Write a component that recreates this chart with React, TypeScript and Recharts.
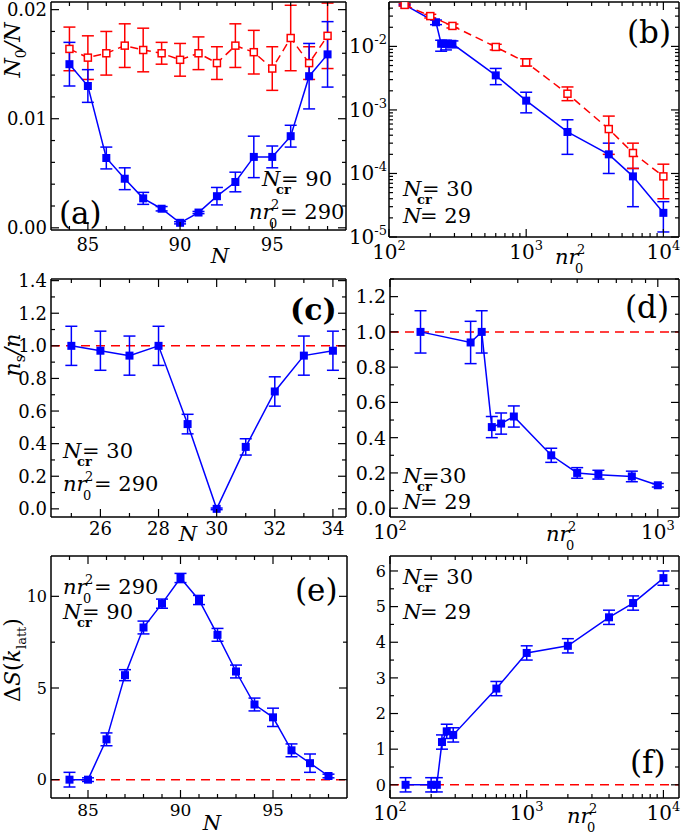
import React from 'react';
import { LineChart, Line, XAxis, YAxis, ErrorBar, ReferenceLine } from 'recharts';

const SERIF = "'DejaVu Serif', serif";
const BLUE = '#0000ff';
const RED = '#ff0000';

// (a) N0/N against N at nr0^2 = 290
const nA = [84, 85, 86, 87, 88, 89, 90, 91, 92, 93, 94, 95, 96, 97, 98];
const blueA = [0.015, 0.013, 0.0064, 0.0045, 0.0027, 0.00175, 0.00046, 0.0014, 0.0029, 0.0042, 0.0065, 0.0065, 0.0084, 0.0139, 0.0159];
const blueErrA = [0.002, 0.0015, 0.001, 0.001, 0.00055, 0.0002, 0.0001, 0.0001, 0.0008, 0.0009, 0.0019, 0.001, 0.001, 0.003, 0.003];
const redA = [0.0164, 0.0156, 0.016, 0.0167, 0.0163, 0.016, 0.0154, 0.016, 0.0151, 0.0167, 0.0161, 0.0146, 0.0174, 0.0151, 0.0176];
const redErrA = [0.002, 0.002, 0.002, 0.002, 0.002, 0.001, 0.0015, 0.0015, 0.0015, 0.002, 0.002, 0.002, 0.003, 0.0015, 0.003];

// (b) N0/N against nr0^2, Ncr = 30, N = 29
const densBlueB = [130, 220, 240, 260, 290, 600, 1000, 2000, 4000, 6000, 10000];
const blueB = [0.045, 0.024, 0.011, 0.011, 0.011, 0.0035, 0.0014, 0.00045, 0.0002, 0.00009, 0.000024];
const blueLoB = [0.044, 0.022, 0.0084, 0.0088, 0.0095, 0.0025, 0.0009, 0.0002, 0.0001, 0.00003, 0.000012];
const blueHiB = [0.046, 0.026, 0.0125, 0.0125, 0.0122, 0.0045, 0.0019, 0.0007, 0.0003, 0.00012, 0.000036];
const densRedB = [130, 200, 290, 600, 1000, 2000, 4000, 6000, 10000];
const redB = [0.045, 0.03, 0.021, 0.0098, 0.0056, 0.0018, 0.0005, 0.00021, 0.00009];
const redLoB = [0.043, 0.028, 0.0195, 0.0088, 0.0049, 0.0014, 0.0002, 0.00012, 0.00004];
const redHiB = [0.047, 0.032, 0.0225, 0.0108, 0.0064, 0.0023, 0.0008, 0.0003, 0.00014];

// (c) ns/n against N
const nC = [25, 26, 27, 28, 29, 30, 31, 32, 33, 34];
const fracC = [1.0, 0.97, 0.94, 1.0, 0.52, 0.0, 0.38, 0.72, 0.94, 0.97];
const errC = [0.12, 0.12, 0.12, 0.12, 0.06, 0.005, 0.05, 0.09, 0.12, 0.12];

// (d) ns/n against nr0^2
const densD = [130, 200, 220, 240, 260, 290, 400, 500, 600, 800, 1000];
const fracD = [1.0, 0.94, 1.0, 0.46, 0.48, 0.52, 0.3, 0.2, 0.19, 0.18, 0.13];
const errD = [0.12, 0.12, 0.12, 0.06, 0.06, 0.06, 0.04, 0.03, 0.025, 0.03, 0.01];

// (e) ΔS(k_latt) against N
const nE = [84, 85, 86, 87, 88, 89, 90, 91, 92, 93, 94, 95, 96, 97, 98];
const dsE = [0.0, 0.0, 2.2, 5.7, 8.3, 9.6, 11.0, 9.8, 7.9, 5.9, 4.1, 3.4, 1.6, 0.9, 0.2];
const errE = [0.4, 0.1, 0.35, 0.3, 0.35, 0.25, 0.25, 0.25, 0.35, 0.35, 0.35, 0.5, 0.35, 0.5, 0.1];

// (f) ΔS(k_latt) against nr0^2
const densF = [130, 200, 220, 240, 260, 290, 600, 1000, 2000, 4000, 6000, 10000];
const dsF = [0.0, 0.0, 0.0, 1.2, 1.5, 1.4, 2.7, 3.7, 3.9, 4.7, 5.1, 5.8];
const errF = [0.2, 0.2, 0.2, 0.2, 0.2, 0.2, 0.2, 0.2, 0.2, 0.2, 0.2, 0.2];

const ticksN = [85, 90, 95];
const ticksNC = [26, 28, 30, 32, 34];
const ticksA = [0, 0.01, 0.02];
const ticksDecB = [1e-5, 1e-4, 1e-3, 1e-2];
const ticksDens = [100, 1000, 10000];
const ticksDensD = [100, 1000];
const ticksFrac = [0, 0.2, 0.4, 0.6, 0.8, 1.0, 1.2, 1.4];
const ticksE = [0, 5, 10];
const ticksF = [0, 1, 2, 3, 4, 5, 6];

const range = (a: number, b: number, s: number) => {
  const out: number[] = [];
  for (let v = a; v <= b + 1e-9; v += s) out.push(+v.toFixed(6));
  return out;
};
const logMinor = (lo: number, hi: number) => {
  const out: number[] = [];
  for (let d = Math.floor(Math.log10(lo)); d <= Math.ceil(Math.log10(hi)); d++) {
    for (let m = 2; m <= 9; m++) {
      const v = m * Math.pow(10, d);
      if (v > lo && v < hi) out.push(v);
    }
  }
  return out;
};

const rows = (xs: number[], ys: number[], es: number[]) => xs.map((x, i) => ({ x, y: ys[i], e: es[i] }));
const rowsLog = (xs: number[], ys: number[], lo: number[], hi: number[]) =>
  xs.map((x, i) => ({ x, y: ys[i], e: [ys[i] - lo[i], hi[i] - ys[i]] }));

const blueSq = (p: any) => (
  <rect key={`b${p.index}`} x={p.cx - 4} y={p.cy - 4} width={8} height={8} fill={BLUE} />
);
const redSq = (p: any) => (
  <rect key={`r${p.index}`} x={p.cx - 3.5} y={p.cy - 3.5} width={7} height={7} fill="#fff" stroke={RED} strokeWidth={1.5} />
);

const font = (size: number, italic = false, bold = false) => ({
  fontFamily: SERIF,
  fontSize: size,
  fontStyle: italic ? 'italic' : 'normal',
  fontWeight: bold ? 'bold' : 'normal',
});

// label renderers: (value, x, y) where x/y is the point on the axis line
type LabelFn = (v: number, x: number, y: number) => React.ReactNode;
const linX = (size: number, fmt: (v: number) => string, gap = 4): LabelFn => (v, x, y) => (
  <text x={x} y={y + gap + size * 0.8} textAnchor="middle" style={font(size)} fill="#000">{fmt(v)}</text>
);
const linY = (size: number, fmt: (v: number) => string): LabelFn => (v, x, y) => (
  <text x={x - 4} y={y + size * 0.36} textAnchor="end" style={font(size)} fill="#000">{fmt(v)}</text>
);
const logX: LabelFn = (v, x, y) => (
  <text x={x} y={y + 22} textAnchor="middle" style={font(20)} fill="#000">
    10<tspan dy={-9} style={font(13)}>{Math.round(Math.log10(v))}</tspan>
  </text>
);
const logY: LabelFn = (v, x, y) => (
  <text x={x - 2} y={y + 7} textAnchor="end" style={font(20)} fill="#000">
    10<tspan dy={-9} style={font(13)}>{Math.round(Math.log10(v))}</tspan>
  </text>
);

const isIn = (v: number, list: number[]) => list.some((m) => Math.abs(m - v) <= 1e-9 * Math.max(1e-12, Math.abs(m)) + 1e-15);

type Box = { left: number; top: number; right: number; bottom: number };

function Panel(props: {
  box: Box;
  base: number;
  xDomain: number[];
  yDomain: number[];
  xLog?: boolean;
  yLog?: boolean;
  xTicks: number[];
  xMinor: number[];
  yTicks: number[];
  yMinor: number[];
  xLabel: LabelFn;
  yLabel: LabelFn;
  children: React.ReactNode;
}) {
  const { box, base } = props;
  const pad = 14;
  const top = box.top - pad;
  const width = box.right - base + pad;
  const height = box.bottom - top + 44;
  const plotTop = pad;
  const plotRight = box.right - base;
  const xs: any = { type: 'number', domain: props.xDomain, scale: props.xLog ? 'log' : 'linear', allowDataOverflow: true, interval: 0 };
  const ys: any = { type: 'number', domain: props.yDomain, scale: props.yLog ? 'log' : 'linear', allowDataOverflow: true, interval: 0 };
  const frame = { stroke: '#000', strokeWidth: 1.5 };
  const ts = { stroke: '#000', strokeWidth: 1.2 };

  const xTick = (p: any) => {
    const v = p.payload.value;
    const major = isIn(v, props.xTicks);
    const len = major ? 8 : 4;
    return (
      <g key={`xt${p.index}`}>
        <line x1={p.x} x2={p.x} y1={p.y} y2={p.y - len} {...ts} />
        <line x1={p.x} x2={p.x} y1={plotTop} y2={plotTop + len} {...ts} />
        {major ? props.xLabel(v, p.x, p.y) : null}
      </g>
    );
  };
  const yTick = (p: any) => {
    const v = p.payload.value;
    const major = isIn(v, props.yTicks);
    const len = major ? 8 : 4;
    return (
      <g key={`yt${p.index}`}>
        <line x1={p.x} x2={p.x + len} y1={p.y} y2={p.y} {...ts} />
        <line x1={plotRight} x2={plotRight - len} y1={p.y} y2={p.y} {...ts} />
        {major ? props.yLabel(v, p.x, p.y) : null}
      </g>
    );
  };

  return (
    <div style={{ position: 'absolute', left: base, top }}>
      <LineChart width={width} height={height} margin={{ top: pad, right: pad, bottom: 0, left: 0 }}>
        <XAxis xAxisId="x" dataKey="x" {...xs} ticks={[...props.xTicks, ...props.xMinor]} height={44} tickLine={false} axisLine={frame} tickSize={0} tickMargin={0} tick={xTick} />
        <YAxis yAxisId="y" {...ys} ticks={[...props.yTicks, ...props.yMinor]} width={box.left - base} tickLine={false} axisLine={frame} tickSize={0} tickMargin={0} tick={yTick} />
        <XAxis xAxisId="xt" {...xs} orientation="top" mirror height={1} tick={false} tickLine={false} axisLine={frame} />
        <YAxis yAxisId="yr" {...ys} orientation="right" mirror width={1} tick={false} tickLine={false} axisLine={frame} />
        {props.children}
      </LineChart>
    </div>
  );
}

const T = (p: { x: number; y: number; size?: number; italic?: boolean; bold?: boolean; anchor?: any; children: React.ReactNode }) => (
  <text x={p.x} y={p.y} style={font(p.size ?? 21, p.italic, p.bold)} textAnchor={p.anchor ?? 'start'} fill="#000">
    {p.children}
  </text>
);

const Ncr = ({ x, y, text }: { x: number; y: number; text: string }) => (
  <g>
    <T x={x} y={y} italic>N</T>
    <T x={x + 14} y={y + 8} size={13} bold>cr</T>
    <T x={x + 19} y={y}>{text}</T>
  </g>
);
const Nr2 = ({ x, y, text }: { x: number; y: number; text?: string }) => (
  <g>
    <T x={x} y={y} italic>nr</T>
    <T x={x + 22} y={y - 10} size={13}>2</T>
    <T x={x + 20} y={y + 9} size={13}>0</T>
    {text ? <T x={x + 31} y={y}>{text}</T> : null}
  </g>
);
const Nval = ({ x, y, text }: { x: number; y: number; text: string }) => (
  <g>
    <T x={x} y={y} italic>N</T>
    <T x={x + 17} y={y}>{text}</T>
  </g>
);

const line = (data: any[], color: string, dashed: boolean, dot: any, key: string) => (
  <Line
    key={key}
    xAxisId="x"
    yAxisId="y"
    data={data}
    dataKey="y"
    type="linear"
    stroke={color}
    strokeWidth={1.5}
    strokeDasharray={dashed ? '8 5' : undefined}
    dot={dot}
    activeDot={false}
    legendType="none"
    isAnimationActive={false}
  >
    <ErrorBar dataKey="e" direction="y" width={6} stroke={color} strokeWidth={1.5} />
  </Line>
);

export default function App() {
  const fmt2 = (v: number) => v.toFixed(2);
  const fmt1 = (v: number) => v.toFixed(1);
  const fmt0 = (v: number) => String(Math.round(v));
  return (
    <div style={{ position: 'absolute', left: 0, top: 0, width: 681, height: 836, background: '#fff', overflow: 'hidden' }}>
      <Panel
        box={{ left: 51, top: 2, right: 346, bottom: 230 }}
        base={0}
        xDomain={[83, 99]}
        yDomain={[-0.0002, 0.0207]}
        xTicks={ticksN}
        xMinor={range(84, 98, 1).filter((v) => !isIn(v, ticksN))}
        yTicks={ticksA}
        yMinor={range(0.002, 0.018, 0.002).filter((v) => !isIn(v, ticksA))}
        xLabel={linX(18, fmt0, 7)}
        yLabel={linY(18, fmt2)}
      >
        {line(rows(nA, redA, redErrA), RED, true, redSq, 'ra')}
        {line(rows(nA, blueA, blueErrA), BLUE, false, blueSq, 'ba')}
      </Panel>
      <Panel
        box={{ left: 389, top: 2, right: 679, bottom: 237 }}
        base={340}
        xDomain={[100, 13000]}
        yDomain={[1e-5, 0.05]}
        xLog
        yLog
        xTicks={ticksDens}
        xMinor={logMinor(100, 13000)}
        yTicks={ticksDecB}
        yMinor={logMinor(1e-5, 0.05)}
        xLabel={logX}
        yLabel={logY}
      >
        {line(rowsLog(densBlueB, blueB, blueLoB, blueHiB), BLUE, false, blueSq, 'bb')}
        {line(rowsLog(densRedB, redB, redLoB, redHiB), RED, true, redSq, 'rb')}
      </Panel>
      <Panel
        box={{ left: 51, top: 279, right: 346, bottom: 517 }}
        base={0}
        xDomain={[24.3, 34.45]}
        yDomain={[-0.05, 1.41]}
        xTicks={ticksNC}
        xMinor={range(25, 33, 2)}
        yTicks={ticksFrac}
        yMinor={range(0.1, 1.3, 0.2)}
        xLabel={linX(18, fmt0)}
        yLabel={linY(18, fmt1)}
      >
        <ReferenceLine xAxisId="x" yAxisId="y" y={1} stroke={RED} strokeWidth={1.5} strokeDasharray="9 6" />
        {line(rows(nC, fracC, errC), BLUE, false, blueSq, 'bc')}
      </Panel>
      <Panel
        box={{ left: 390, top: 279, right: 679, bottom: 517 }}
        base={340}
        xDomain={[100, 1200]}
        yDomain={[-0.05, 1.3]}
        xLog
        xTicks={ticksDensD}
        xMinor={logMinor(100, 1200)}
        yTicks={ticksFrac.slice(0, 7)}
        yMinor={range(0.1, 1.3, 0.2)}
        xLabel={logX}
        yLabel={linY(19, fmt1)}
      >
        <ReferenceLine xAxisId="x" yAxisId="y" y={1} stroke={RED} strokeWidth={1.5} strokeDasharray="9 6" />
        {line(rows(densD, fracD, errD), BLUE, false, blueSq, 'bd')}
      </Panel>
      <Panel
        box={{ left: 51, top: 556, right: 347, bottom: 798 }}
        base={0}
        xDomain={[83, 99]}
        yDomain={[-1, 12.2]}
        xTicks={ticksN}
        xMinor={range(84, 98, 1).filter((v) => !isIn(v, ticksN))}
        yTicks={ticksE}
        yMinor={[2.5, 7.5]}
        xLabel={linX(17, fmt0)}
        yLabel={linY(16, fmt0)}
      >
        <ReferenceLine xAxisId="x" yAxisId="y" y={0} stroke={RED} strokeWidth={1.5} strokeDasharray="9 6" />
        {line(rows(nE, dsE, errE), BLUE, false, blueSq, 'be')}
      </Panel>
      <Panel
        box={{ left: 390, top: 556, right: 679, bottom: 798 }}
        base={340}
        xDomain={[100, 13000]}
        yDomain={[-0.37, 6.42]}
        xLog
        xTicks={ticksDens}
        xMinor={logMinor(100, 13000)}
        yTicks={ticksF}
        yMinor={range(0.5, 5.5, 1)}
        xLabel={logX}
        yLabel={linY(16, fmt0)}
      >
        <ReferenceLine xAxisId="x" yAxisId="y" y={0} stroke={RED} strokeWidth={1.5} strokeDasharray="9 6" />
        {line(rows(densF, dsF, errF), BLUE, false, blueSq, 'bf')}
      </Panel>

      <svg width={681} height={836} style={{ position: 'absolute', left: 0, top: 0, pointerEvents: 'none' }}>
        {/* panel letters */}
        <T x={59} y={224} size={31}>(a)</T>
        <T x={627} y={43} size={31}>(b)</T>
        <T x={290} y={320} size={30} bold>(c)</T>
        <T x={625} y={318} size={31}>(d)</T>
        <T x={295} y={601} size={31}>(e)</T>
        <T x={630} y={773} size={31}>(f)</T>

        {/* annotations */}
        <Ncr x={262} y={186} text="= 90" />
        <Nr2 x={249} y={219} text="= 290" />
        <Ncr x={403} y={196} text="= 30" />
        <Nval x={403} y={223} text="= 29" />
        <Ncr x={63} y={458} text="= 30" />
        <Nr2 x={63} y={491} text="= 290" />
        <Ncr x={403} y={483} text="=30" />
        <Nval x={403} y={509} text="= 29" />
        <Nr2 x={63} y={594} text="= 290" />
        <Ncr x={63} y={619} text="= 90" />
        <Ncr x={403} y={584} text="= 30" />
        <Nval x={403} y={619} text="= 29" />

        {/* axis titles */}
        <T x={220} y={263} italic anchor="middle">N</T>
        <Nr2 x={555} y={264} />
        <T x={188} y={541} italic anchor="middle">N</T>
        <Nr2 x={546} y={541} />
        <T x={212} y={830} italic anchor="middle">N</T>
        <Nr2 x={567} y={823} />

        <text transform="rotate(-90 20 50)" x={20} y={50} textAnchor="middle" style={font(22)} fill="#000">
          <tspan style={font(22, true)}>N</tspan>
          <tspan style={font(14)} dy={6}>0</tspan>
          <tspan style={font(22, true)} dy={-6}>/N</tspan>
        </text>
        <text transform="rotate(-90 20 355)" x={20} y={355} textAnchor="middle" style={font(22)} fill="#000">
          <tspan style={font(22, true)}>n</tspan>
          <tspan style={font(14)} dy={5}>s</tspan>
          <tspan style={font(22, true)} dy={-5}>/n</tspan>
        </text>
        <text transform="rotate(-90 20 660)" x={20} y={660} textAnchor="middle" style={font(22)} fill="#000">
          <tspan>Δ</tspan>
          <tspan style={font(22, true)}>S</tspan>
          <tspan>(</tspan>
          <tspan style={font(22, true)}>k</tspan>
          <tspan style={font(13)} dy={6}>latt</tspan>
          <tspan dy={-6}>)</tspan>
        </text>
      </svg>
    </div>
  );
}
